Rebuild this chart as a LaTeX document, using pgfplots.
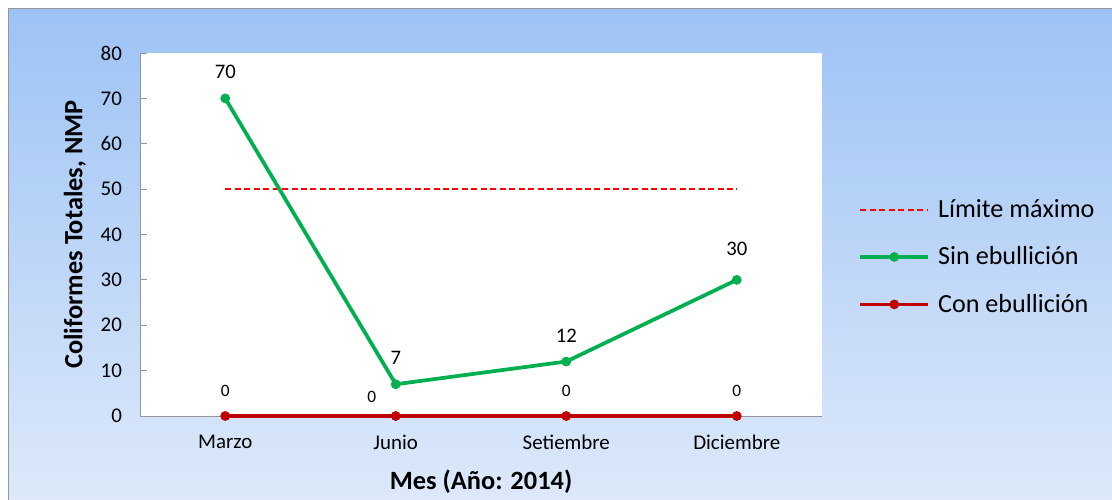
\documentclass[border=0pt]{standalone}
\usepackage{pgfplots}
\pgfplotsset{compat=1.18}
\usepackage{pgfplotstable}
\usepackage{fontspec}
\setmainfont{Carlito}

\definecolor{bgtop}{RGB}{157,195,245}
\definecolor{bgbot}{RGB}{221,233,250}
\definecolor{sinc}{RGB}{0,176,80}
\definecolor{conc}{RGB}{192,0,0}
\definecolor{limc}{RGB}{255,0,0}
\definecolor{axisgray}{RGB}{150,150,150}

% month index, value, label offsets
\pgfplotstableread{
x y dx dy
0 70 0 20
1 7 0 20
2 12 0 19
3 30 0 23
}\sinebu
\pgfplotstableread{
x y dx dy
0 0 0 19
1 0 -18 14
2 0 0 19
3 0 0 19
}\conebu
\pgfplotstableread{
x y
0 50
1 50
2 50
3 50
}\limite

\begin{document}
\begin{tikzpicture}
\useasboundingbox (0,0) rectangle (834pt,374.25pt);
\fill[white] (0,0) rectangle (834pt,374.25pt);
\shade[top color=bgtop, bottom color=bgbot] (6pt,-1pt) rectangle (835pt,367.5pt);
\draw[axisgray, line width=0.75pt] (6pt,-1pt) -- (6pt,367.5pt) -- (835pt,367.5pt);
\begin{axis}[
  at={(105pt,62.25pt)}, anchor=south west,
  scale only axis, width=511.5pt, height=272.25pt,
  axis background/.style={fill=white},
  xmin=-0.5, xmax=3.5, ymin=0, ymax=80,
  xtick={0,1,2,3},
  xticklabels={Marzo,Junio,Setiembre,Diciembre},
  ytick={0,10,...,80},
  major x tick style={draw=none},
  major y tick style={axisgray, line width=0.75pt},
  tick align=inside, major tick length=5.25pt,
  axis x line*=bottom, axis y line*=left,
  axis line style={axisgray, line width=0.75pt, -},
  /pgf/number format/assume math mode=true,
  tick label style={font=\fontsize{15.7}{18}\selectfont, text=black},
  yticklabel style={xshift=-10pt},
  xticklabel style={yshift=-10.5pt},
  xlabel={\textbf{Mes (Año: 2014)}},
  ylabel={\textbf{Coliformes Totales, NMP}},
  label style={font=\fontsize{19.8}{22}\selectfont},
  xlabel style={at={(axis description cs:0.5,-0.182)}, anchor=center},
  ylabel style={at={(axis description cs:-0.0953,0.5)}, anchor=center},
  legend style={at={(axis description cs:1.053,0.438)}, anchor=west,
    draw=none, fill=none, font=\fontsize{19.6}{23}\selectfont,
    row sep=16.5pt, inner sep=0pt,
    /tikz/every odd column/.append style={column sep=4pt}},
  legend cell align=left,
  legend image code/.code={
    \draw[mark repeat=2,mark phase=2,#1] plot coordinates {(0pt,0pt)(25.5pt,0pt)(51pt,0pt)};
  },
  clip=false,
]
\addplot[draw=limc, line width=1.5pt, dash pattern=on 4.5pt off 2.6pt, mark=none]
  table[x=x,y=y] {\limite};
\addlegendentry{Límite máximo}

\addplot[sinc, line width=2.8pt, mark=*, mark size=3.4pt,
  mark options={solid, fill=sinc, draw=sinc, line width=0.5pt},
  visualization depends on={\thisrow{dx}\as\dx},
  visualization depends on={\thisrow{dy}\as\dy},
  nodes near coords, point meta=explicit,
  nodes near coords style={anchor=center, xshift=\dx pt, yshift=\dy pt,
    text=black, font=\fontsize{15.5}{18}\selectfont,
    /pgf/number format/assume math mode=true}]
  table[x=x,y=y,meta=y] {\sinebu};
\addlegendentry{Sin ebullición}

\addplot[conc, line width=2.8pt, mark=*, mark size=3.4pt,
  mark options={solid, fill=conc, draw=conc, line width=0.5pt},
  visualization depends on={\thisrow{dx}\as\dx},
  visualization depends on={\thisrow{dy}\as\dy},
  nodes near coords, point meta=explicit,
  nodes near coords style={anchor=center, xshift=\dx pt, yshift=\dy pt,
    text=black, font=\fontsize{13}{16}\selectfont,
    /pgf/number format/assume math mode=true}]
  table[x=x,y=y,meta=y] {\conebu};
\addlegendentry{Con ebullición}
\end{axis}
\end{tikzpicture}
\end{document}
